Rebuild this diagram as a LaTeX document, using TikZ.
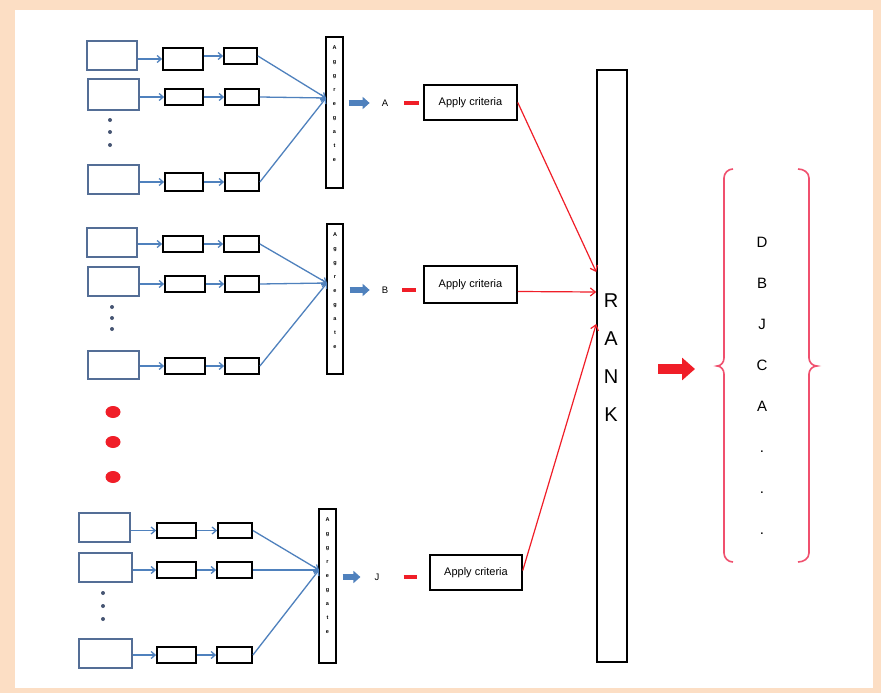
\documentclass[tikz,border=0pt]{standalone}
\usepackage{fontspec}
\setmainfont{Liberation Sans}
\usetikzlibrary{calc}
\usetikzlibrary{arrows.meta}

\definecolor{peach}{RGB}{252,222,196}
\definecolor{lineblue}{RGB}{79,129,189}
\definecolor{boxblue}{RGB}{84,110,150}
\definecolor{critred}{RGB}{240,30,40}
\definecolor{bracered}{RGB}{240,80,110}
\definecolor{dotgrey}{RGB}{70,85,115}

\begin{document}
\begin{tikzpicture}[x=1pt,y=-1pt,
	inbox/.style={draw=boxblue, line width=1.2pt, minimum width=50, minimum height=29, inner sep=0},
	procbox/.style={draw=black, line width=1.8pt, minimum width=38, minimum height=16, inner sep=0},
	aggbox/.style={draw=black, line width=1.4pt, minimum width=17, minimum height=151, inner sep=0},
	aggtxt/.style={anchor=north, inner sep=0, align=center, font=\fontsize{5.5}{14}\selectfont\bfseries},
	critbox/.style={draw=black, line width=1.5pt, minimum width=93, minimum height=35, inner sep=0, font=\fontsize{11}{13}\selectfont},
	lbl/.style={inner sep=0, font=\fontsize{9.5}{11}\selectfont},
	flow/.style={lineblue, line width=1.3pt, -{Straight Barb[length=4pt,width=7pt]}},
	fatblue/.style={lineblue, line width=6pt, -{Triangle[length=7pt,width=12pt]}},
	reddash/.style={critred, line width=3.5pt},
	torank/.style={critred, line width=1.2pt, -{Straight Barb[length=5pt,width=8pt]}},
	fatred/.style={critred, line width=10pt, -{Triangle[length=13pt,width=22pt]}},
	brace/.style={bracered, line width=1.6pt}]

	\useasboundingbox (0,0) rectangle (881,693);
	\fill[peach] (0,0) rectangle (881,693);
	\fill[white] (15,10) rectangle (873,688);

	%first group
	\node[inbox] (in11) at (112,55.5) {};
	\node[inbox, minimum width=51, minimum height=31] (in12) at (113.5,94.5) {};
	\node[inbox, minimum width=51] (in13) at (113.5,179.5) {};
	\node[procbox, minimum width=40, minimum height=22] (b11) at (183,59) {};
	\node[procbox, minimum width=33] (c11) at (240.5,56) {};
	\node[procbox] (b12) at (184,97) {};
	\node[procbox, minimum width=34] (c12) at (242,97) {};
	\node[procbox, minimum height=18] (b13) at (184,182) {};
	\node[procbox, minimum width=34, minimum height=18] (c13) at (242,182) {};
	\node[aggbox] (agg1) at (334.5,112.5) {};
	\node[aggtxt] (agg1t) at ($(agg1.north)+(0,9)$) {A\\g\\g\\r\\e\\g\\a\\t\\e};
	\coordinate (m1) at (326,98);
	\node[lbl] (lblA) at (385,103) {A};
	\node[critbox] (crit1) at (470.5,102.5) {Apply criteria};
	\fill[dotgrey] (110,120) circle (2);
	\fill[dotgrey] (110,132) circle (2);
	\fill[dotgrey] (110,145) circle (2);

	%second group
	\node[inbox] (in21) at (112,242.5) {};
	\node[inbox, minimum width=51] (in22) at (113.5,281.5) {};
	\node[inbox, minimum width=51, minimum height=28] (in23) at (113.5,365) {};
	\node[procbox, minimum width=40] (b21) at (183,244) {};
	\node[procbox, minimum width=35] (c21) at (241.5,244) {};
	\node[procbox, minimum width=40] (b22) at (185,284) {};
	\node[procbox, minimum width=34] (c22) at (242,284) {};
	\node[procbox, minimum width=40] (b23) at (185,366) {};
	\node[procbox, minimum width=34] (c23) at (242,366) {};
	\node[aggbox, minimum width=16, minimum height=150] (agg2) at (335,299) {};
	\node[aggtxt] (agg2t) at ($(agg2.north)+(0,9)$) {A\\g\\g\\r\\e\\g\\a\\t\\e};
	\coordinate (m2) at (327,283);
	\node[lbl] (lblB) at (385,290) {B};
	\node[critbox, minimum height=37] (crit2) at (470.5,284.5) {Apply criteria};
	\fill[dotgrey] (112,307) circle (2);
	\fill[dotgrey] (112,318) circle (2);
	\fill[dotgrey] (112,329) circle (2);

	%red dots
	\fill[critred] (113,412) ellipse [x radius=7.5, y radius=6];
	\fill[critred] (113,442) ellipse [x radius=7.5, y radius=6];
	\fill[critred] (113,477) ellipse [x radius=7.5, y radius=6];

	%last group
	\node[inbox, minimum width=51] (in31) at (104.5,527.5) {};
	\node[inbox, minimum width=53] (in32) at (105.5,567.5) {};
	\node[inbox, minimum width=53] (in33) at (105.5,653.5) {};
	\node[procbox, minimum width=39, minimum height=15] (b31) at (176.5,530.5) {};
	\node[procbox, minimum width=34, minimum height=15] (c31) at (235,530.5) {};
	\node[procbox, minimum width=39] (b32) at (176.5,570) {};
	\node[procbox, minimum width=35] (c32) at (234.5,570) {};
	\node[procbox, minimum width=39] (b33) at (176.5,655) {};
	\node[procbox, minimum width=35] (c33) at (234.5,655) {};
	\node[aggbox, minimum height=154] (agg3) at (327.5,586) {};
	\node[aggtxt] (agg3t) at ($(agg3.north)+(0,9)$) {A\\g\\g\\r\\e\\g\\a\\t\\e};
	\coordinate (m3) at (319,570);
	\node[lbl] (lblJ) at (377,577) {J};
	\node[critbox, minimum width=92] (crit3) at (476,572.5) {Apply criteria};
	\fill[dotgrey] (103,593) circle (2);
	\fill[dotgrey] (103,606) circle (2);
	\fill[dotgrey] (103,619) circle (2);

	%rank and result
	\node[draw=black, line width=1.5pt, minimum width=30, minimum height=592, inner sep=0] (rank) at (612,366) {};
	\node[anchor=north, inner sep=0, align=center, font=\fontsize{20}{38}\selectfont] (rankt) at (611,294) {R\\A\\N\\K};
	\coordinate (r1) at ($(rank.west)+(0,-94)$);
	\coordinate (r2) at ($(rank.west)+(0,-74)$);
	\coordinate (r3) at ($(rank.west)+(0,-42)$);
	\coordinate (o1) at (658,369);
	\coordinate (o2) at (695,369);
	\node[anchor=north, inner sep=0, align=center, font=\fontsize{15}{41}\selectfont] (result) at (762,237) {D\\B\\J\\C\\A\\.\\.\\.};

	\draw[flow] (in11.east |- b11) -- (b11.west);
	\draw[flow] (b11.east |- c11) -- (c11.west);
	\draw[flow] (in12.east |- b12) -- (b12.west);
	\draw[flow] (b12) -- (c12);
	\draw[flow] (in13.east |- b13) -- (b13.west);
	\draw[flow] (b13) -- (c13);
	\draw[flow] (c11.east) -- (m1);
	\draw[flow] (c12.east) -- (m1);
	\draw[flow] (c13.east) -- (m1);

	\draw[flow] (in21.east |- b21) -- (b21.west);
	\draw[flow] (b21) -- (c21);
	\draw[flow] (in22.east |- b22) -- (b22.west);
	\draw[flow] (b22) -- (c22);
	\draw[flow] (in23.east |- b23) -- (b23.west);
	\draw[flow] (b23) -- (c23);
	\draw[flow] (c21.east) -- (m2);
	\draw[flow] (c22.east) -- (m2);
	\draw[flow] (c23.east) -- (m2);

	\draw[flow] (in31.east |- b31) -- (b31.west);
	\draw[flow] (b31) -- (c31);
	\draw[flow] (in32.east |- b32) -- (b32.west);
	\draw[flow] (b32) -- (c32);
	\draw[flow] (in33.east |- b33) -- (b33.west);
	\draw[flow] (b33) -- (c33);
	\draw[flow] (c31.east) -- (m3);
	\draw[flow] (c32.east) -- (m3);
	\draw[flow] (c33.east) -- (m3);

	\draw[fatblue, shorten <=5pt, shorten >=12pt] (agg1.east |- lblA) -- (lblA.west);
	\draw[fatblue, shorten <=6pt, shorten >=12pt] (agg2.east |- lblB) -- (lblB.west);
	\draw[fatblue, shorten <=6pt, shorten >=14pt] (agg3.east |- lblJ) -- (lblJ.west);

	\draw[reddash, shorten <=16pt, shorten >=4pt] (lblA.east) -- (lblA.east -| crit1.west);
	\draw[reddash, shorten <=14pt, shorten >=7pt] (lblB.east) -- (lblB.east -| crit2.west);
	\draw[reddash, shorten <=24pt, shorten >=12pt] (lblJ.east) -- (lblJ.east -| crit3.west);

	\draw[torank] (crit1.east) -- (r1);
	\draw[torank] ($(crit2.east)+(0,7)$) -- (r2);
	\draw[torank] ($(crit3.east)+(0,-2)$) -- (r3);

	\draw[fatred] (o1) -- (o2);

	\draw[brace] (733,169) to[out=180,in=90] (724,178) -- (724,358) to[out=-90,in=0] (717,366) to[out=0,in=90] (724,374) -- (724,553) to[out=-90,in=180] (733,562);
	\draw[brace] (798,169) to[out=0,in=90] (809,178) -- (809,358) to[out=-90,in=180] (817,366) to[out=180,in=90] (809,374) -- (809,553) to[out=-90,in=0] (798,562);

\end{tikzpicture}
\end{document}
